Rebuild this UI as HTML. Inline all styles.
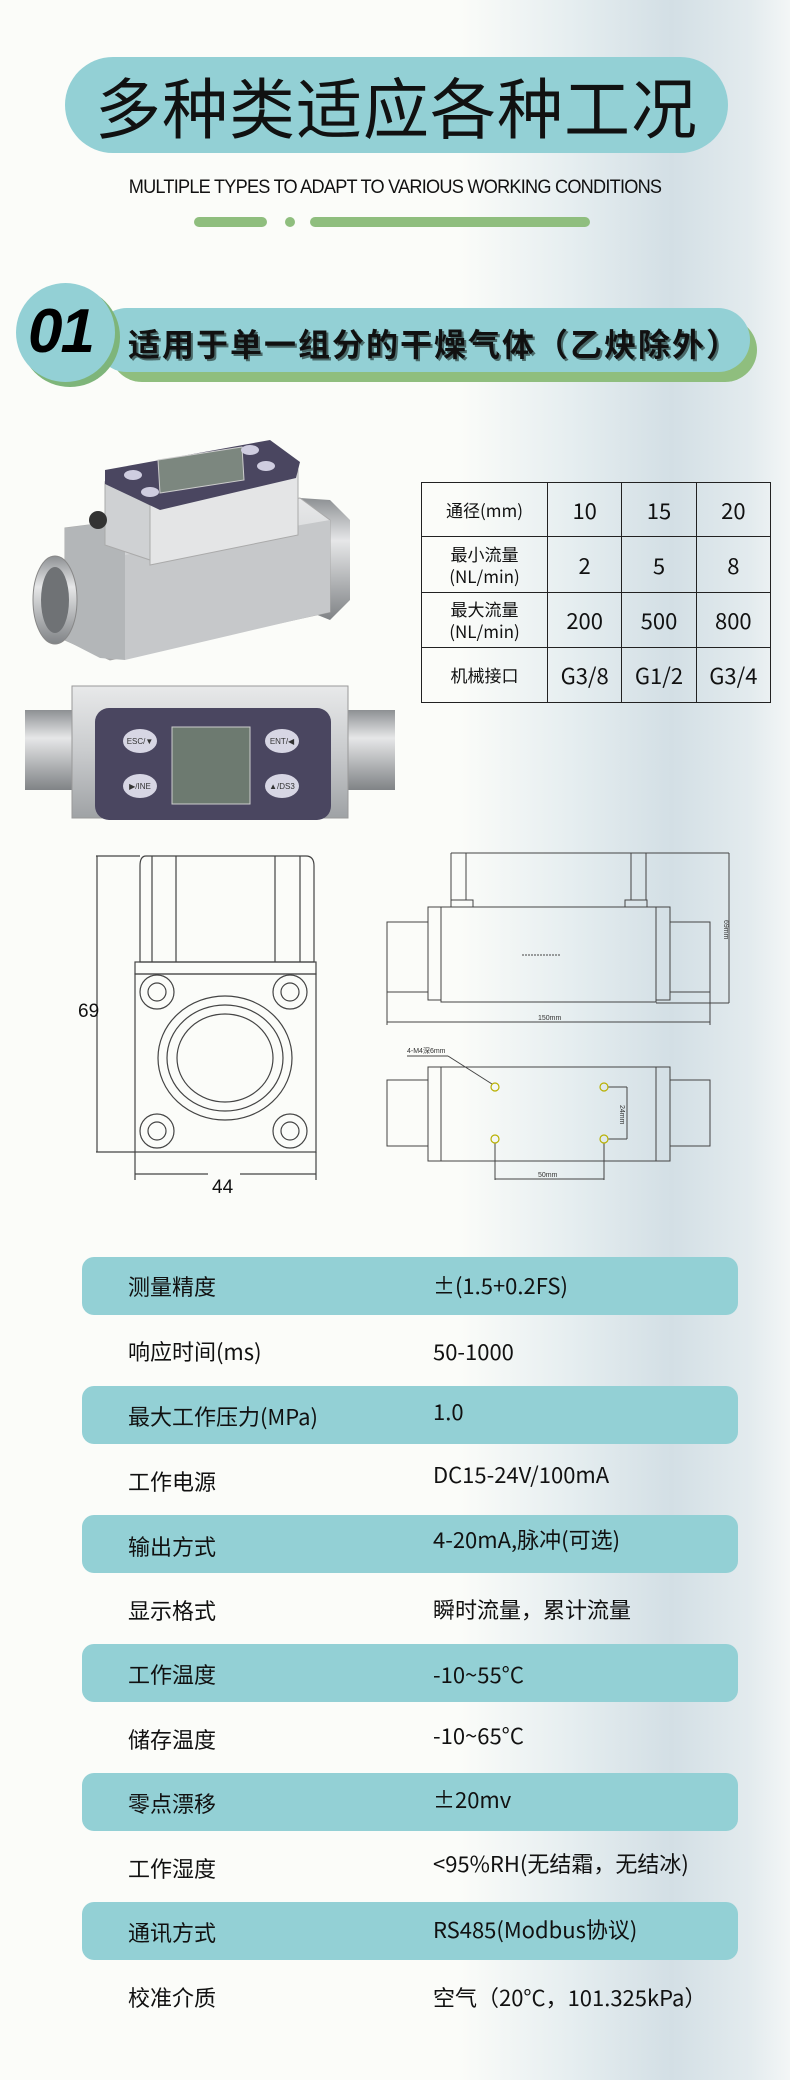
<!DOCTYPE html>
<html><head><meta charset="utf-8"><style>
*{margin:0;padding:0;box-sizing:border-box}
body{width:790px;height:2080px;position:relative;overflow:hidden;font-family:"Liberation Sans","Noto Sans CJK SC",sans-serif;
background:linear-gradient(90deg,#fbfcf9 0%,#fbfcf9 58%,#e6eef0 72%,#d3dfe5 85%,#e3ebee 95%,#f3f6f6 100%)}
.abs{position:absolute}
.pill{left:65px;top:57px;width:663px;height:96px;border-radius:48px;background:#93d0d5}
.title{left:65px;top:57px;width:663px;height:96px;line-height:96px;text-align:center;font-family:"Noto Sans CJK SC",sans-serif;font-size:66px;color:#111;letter-spacing:1px}
.sub{left:0;width:790px;top:177px;text-align:center;font-size:19px;color:#111;letter-spacing:-0.8px;transform:scaleX(0.955);white-space:nowrap}
.bar{background:#8fbe7e;border-radius:6px;height:10px;top:217px}
.row{left:82px;width:656px;height:58px;border-radius:12px;background:#93d0d5}
.lab{left:128px;font-size:22px;color:#111;font-family:"Noto Sans CJK SC",sans-serif;line-height:30px;white-space:nowrap}
.val{left:433px;font-size:22px;color:#111;font-family:"Noto Sans CJK SC",sans-serif;line-height:30px;white-space:nowrap}
table{position:absolute;left:421px;top:482px;width:350px;border-collapse:collapse;font-family:"Noto Sans CJK SC",sans-serif}
td{border:1.5px solid #222;text-align:center;color:#111;font-size:22px}
td.l{font-size:17px;line-height:22px;width:126px}
</style></head><body>
<div class="abs pill"></div>
<div class="abs title">多种类适应各种工况</div>
<div class="abs sub">MULTIPLE TYPES TO ADAPT TO VARIOUS WORKING CONDITIONS</div>
<div class="abs bar" style="left:194px;width:73px"></div>
<div class="abs bar" style="left:285px;width:10px"></div>
<div class="abs bar" style="left:310px;width:280px"></div>

<div class="abs" style="left:110px;top:318px;width:647px;height:64px;border-radius:32px;background:#8fbe7e"></div>
<div class="abs" style="left:95px;top:308px;width:655px;height:64px;border-radius:32px;background:#93d0d5"></div>
<div class="abs" style="left:20px;top:287px;width:100px;height:100px;border-radius:50%;background:#7eb57a"></div>
<div class="abs" style="left:16px;top:283px;width:99px;height:99px;border-radius:50%;background:#93d0d5"></div>
<div class="abs" style="left:28px;top:296px;font-size:62px;font-weight:bold;font-style:italic;color:#000;line-height:72px;letter-spacing:-2px">01</div>
<div class="abs" style="left:128px;top:322px;font-size:32px;font-weight:bold;color:#111;letter-spacing:2px;line-height:42px;white-space:nowrap;font-family:'Noto Sans CJK SC',sans-serif;text-shadow:2px 2px 0 #4a6a6a">适用于单一组分的干燥气体（乙炔除外）</div>

<table>
<tr style="height:54px"><td class="l">通径(mm)</td><td>10</td><td>15</td><td>20</td></tr>
<tr style="height:56px"><td class="l">最小流量<br>(NL/min)</td><td>2</td><td>5</td><td>8</td></tr>
<tr style="height:55px"><td class="l">最大流量<br>(NL/min)</td><td>200</td><td>500</td><td>800</td></tr>
<tr style="height:55px"><td class="l">机械接口</td><td>G3/8</td><td>G1/2</td><td>G3/4</td></tr>
</table>

<svg class="abs" style="left:0;top:0" width="790" height="1240">
<defs>
<linearGradient id="sil" x1="0" y1="0" x2="0" y2="1"><stop offset="0" stop-color="#e8e9ea"/><stop offset=".5" stop-color="#c9cbcd"/><stop offset="1" stop-color="#9fa2a5"/></linearGradient>
<linearGradient id="pipe" x1="0" y1="0" x2="0" y2="1"><stop offset="0" stop-color="#8d9093"/><stop offset=".35" stop-color="#e6e7e8"/><stop offset="1" stop-color="#808386"/></linearGradient>
</defs>
<polygon points="300,498 330,500 350,520 350,600 330,620 305,610" fill="url(#pipe)"/>
<polygon points="65,528 300,498 330,520 330,612 110,660 65,640" fill="url(#sil)" stroke="#aaa"/>
<polygon points="125,555 330,520 330,612 125,660" fill="#c6c8ca"/>
<polygon points="65,528 125,520 125,660 100,658 65,640" fill="#b3b6b8"/>
<ellipse cx="55" cy="600" rx="22" ry="44" fill="url(#pipe)" stroke="#888"/>
<ellipse cx="55" cy="600" rx="14" ry="33" fill="#6f7275"/>
<polygon points="105,482 150,505 150,560 105,545" fill="#cfd1d3" stroke="#aaa"/>
<polygon points="150,505 298,470 298,535 150,565" fill="#e4e5e6" stroke="#aaa"/>
<polygon points="105,470 270,440 300,462 296,478 160,510 105,484" fill="#4a4660"/>
<polygon points="158,460 242,447 244,480 160,493" fill="#7c877f" stroke="#ccc"/>
<ellipse cx="133" cy="475" rx="9" ry="5" fill="#cfcde0"/><ellipse cx="150" cy="492" rx="9" ry="5" fill="#cfcde0"/>
<ellipse cx="250" cy="450" rx="9" ry="5" fill="#cfcde0"/><ellipse cx="266" cy="466" rx="9" ry="5" fill="#cfcde0"/>
<ellipse cx="98" cy="520" rx="9" ry="9" fill="#333"/>
<rect x="25" y="710" width="55" height="80" fill="url(#pipe)"/>
<rect x="340" y="710" width="55" height="80" fill="url(#pipe)"/>
<rect x="72" y="686" width="276" height="132" fill="url(#sil)" stroke="#999"/>
<rect x="95" y="708" width="236" height="112" rx="14" fill="#4a4660"/>
<rect x="172" y="727" width="78" height="77" fill="#6d7a70" stroke="#ccc"/>
<ellipse cx="140" cy="741" rx="17" ry="12" fill="#d7d6e4"/><ellipse cx="282" cy="741" rx="17" ry="12" fill="#d7d6e4"/>
<ellipse cx="140" cy="786" rx="17" ry="12" fill="#d7d6e4"/><ellipse cx="282" cy="786" rx="17" ry="12" fill="#d7d6e4"/>
<g font-size="8" fill="#333" text-anchor="middle" font-family="Liberation Sans"><text x="140" y="744">ESC/▼</text><text x="282" y="744">ENT/◀</text><text x="140" y="789">▶/INE</text><text x="282" y="789">▲/DS3</text></g>
<g fill="none" stroke="#444" stroke-width="1.2">
<path d="M146,856 H306 Q314,856 314,866 V962 H140 V866 Q140,856 146,856Z"/>
<line x1="152" y1="856" x2="152" y2="962"/><line x1="176" y1="856" x2="176" y2="962"/>
<line x1="275" y1="856" x2="275" y2="962"/><line x1="300" y1="856" x2="300" y2="962"/>
<rect x="135" y="962" width="181" height="12"/><rect x="135" y="974" width="181" height="178"/>
<circle cx="157" cy="992" r="17"/><circle cx="157" cy="992" r="9"/>
<circle cx="290" cy="992" r="17"/><circle cx="290" cy="992" r="9"/>
<circle cx="157" cy="1131" r="17"/><circle cx="157" cy="1131" r="9"/>
<circle cx="290" cy="1131" r="17"/><circle cx="290" cy="1131" r="9"/>
<ellipse cx="225" cy="1058" rx="67" ry="62"/><ellipse cx="225" cy="1058" rx="58" ry="53"/><ellipse cx="225" cy="1058" rx="48" ry="44"/>
<line x1="96" y1="856" x2="140" y2="856"/><line x1="96" y1="1152" x2="135" y2="1152"/><line x1="97" y1="856" x2="97" y2="1152"/>
<line x1="135" y1="1152" x2="135" y2="1180"/><line x1="316" y1="1152" x2="316" y2="1180"/>
<line x1="135" y1="1174" x2="208" y2="1174"/><line x1="240" y1="1174" x2="316" y2="1174"/>
</g>
<text x="78" y="1017" font-size="19" fill="#111" font-family="Liberation Sans">69</text>
<text x="212" y="1193" font-size="19" fill="#111" font-family="Liberation Sans">44</text>
<g fill="none" stroke="#444" stroke-width="1">
<line x1="451" y1="853" x2="729" y2="853"/><line x1="451" y1="853" x2="451" y2="900"/><line x1="466" y1="853" x2="466" y2="900"/>
<line x1="631" y1="853" x2="631" y2="900"/><line x1="646" y1="853" x2="646" y2="900"/>
<rect x="451" y="900" width="22" height="7"/><rect x="625" y="900" width="22" height="7"/>
<rect x="428" y="907" width="13" height="93"/><rect x="656" y="907" width="14" height="93"/>
<rect x="441" y="907" width="215" height="95"/>
<rect x="387" y="922" width="41" height="70"/><rect x="670" y="922" width="40" height="70"/>
<line x1="729" y1="853" x2="729" y2="1003"/><line x1="656" y1="1003" x2="729" y2="1003"/>
<line x1="387" y1="992" x2="387" y2="1025"/><line x1="710" y1="992" x2="710" y2="1025"/>
<line x1="387" y1="1022" x2="710" y2="1022"/>
<line x1="522" y1="955" x2="560" y2="955" stroke-dasharray="2,1"/>
<rect x="428" y="1067" width="13" height="94"/><rect x="656" y="1067" width="14" height="94"/>
<rect x="441" y="1067" width="215" height="94"/>
<rect x="387" y="1080" width="41" height="66"/><rect x="670" y="1080" width="40" height="66"/>
<line x1="407" y1="1056" x2="448" y2="1056"/><line x1="448" y1="1056" x2="492" y2="1084"/>
<line x1="608" y1="1087" x2="627" y2="1087"/><line x1="608" y1="1139" x2="627" y2="1139"/><line x1="627" y1="1087" x2="627" y2="1139"/>
<line x1="495" y1="1143" x2="495" y2="1180"/><line x1="604" y1="1143" x2="604" y2="1180"/><line x1="495" y1="1179" x2="604" y2="1179"/>
</g>
<g fill="none" stroke="#b8b000" stroke-width="1.2"><circle cx="495" cy="1087" r="4"/><circle cx="604" cy="1087" r="4"/><circle cx="495" cy="1139" r="4"/><circle cx="604" cy="1139" r="4"/></g>
<g font-size="7" fill="#333" font-family="Liberation Sans,Noto Sans CJK SC,sans-serif">
<text x="538" y="1020">150mm</text><text x="407" y="1053">4-M4深6mm</text><text x="538" y="1177">50mm</text>
<text x="724" y="920" transform="rotate(90 724 920)">69mm</text><text x="620" y="1105" transform="rotate(90 620 1105)">24mm</text>
</g>
</svg>

<div class="abs row" style="top:1257px"></div>
<div class="abs row" style="top:1386px"></div>
<div class="abs row" style="top:1515px"></div>
<div class="abs row" style="top:1644px"></div>
<div class="abs row" style="top:1773px"></div>
<div class="abs row" style="top:1902px"></div>

<div class="abs lab" style="top:1271px">测量精度</div><div class="abs val" style="top:1270px">±(1.5+0.2FS)</div>
<div class="abs lab" style="top:1336px">响应时间(ms)</div><div class="abs val" style="top:1336px">50-1000</div>
<div class="abs lab" style="top:1401px">最大工作压力(MPa)</div><div class="abs val" style="top:1396px">1.0</div>
<div class="abs lab" style="top:1466px">工作电源</div><div class="abs val" style="top:1459px">DC15-24V/100mA</div>
<div class="abs lab" style="top:1531px">输出方式</div><div class="abs val" style="top:1524px">4-20mA,脉冲(可选)</div>
<div class="abs lab" style="top:1595px">显示格式</div><div class="abs val" style="top:1594px">瞬时流量，累计流量</div>
<div class="abs lab" style="top:1659px">工作温度</div><div class="abs val" style="top:1659px">-10~55°C</div>
<div class="abs lab" style="top:1724px">储存温度</div><div class="abs val" style="top:1720px">-10~65°C</div>
<div class="abs lab" style="top:1788px">零点漂移</div><div class="abs val" style="top:1784px">±20mv</div>
<div class="abs lab" style="top:1853px">工作湿度</div><div class="abs val" style="top:1848px">&lt;95%RH(无结霜，无结冰)</div>
<div class="abs lab" style="top:1917px">通讯方式</div><div class="abs val" style="top:1914px">RS485(Modbus协议)</div>
<div class="abs lab" style="top:1982px">校准介质</div><div class="abs val" style="top:1982px">空气（20°C，101.325kPa）</div>
</body></html>
